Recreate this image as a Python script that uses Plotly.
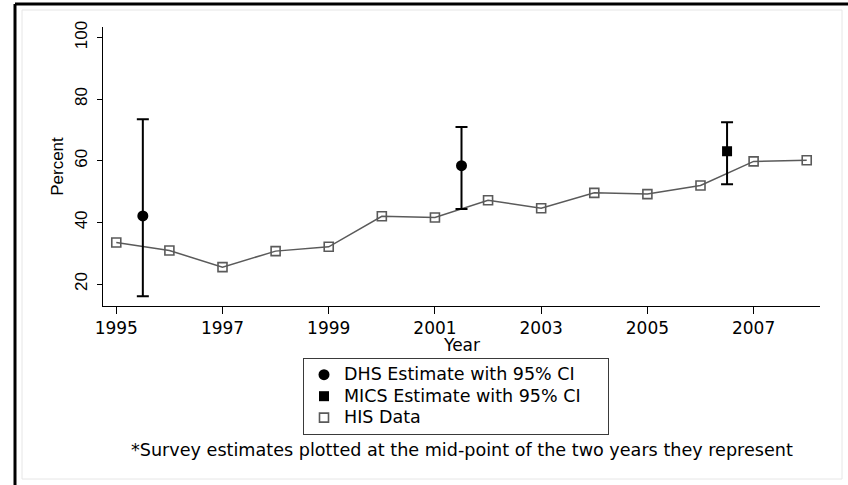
import plotly.graph_objects as go

# HIS annual series
his_years = [1995, 1996, 1997, 1998, 1999, 2000, 2001, 2002, 2003, 2004, 2005, 2006, 2007, 2008]
his_values = [33.5, 30.9, 25.5, 30.7, 32.1, 42.0, 41.6, 47.2, 44.6, 49.6, 49.2, 52.0, 59.8, 60.2]

# DHS survey estimates (mid-point of the two survey years) with 95% CI
dhs_years = [1995.5, 2001.5]
dhs_values = [42.1, 58.4]
dhs_upper = [73.5, 71.0]
dhs_lower = [16.1, 44.4]

# MICS survey estimate with 95% CI
mics_years = [2006.5]
mics_values = [63.1]
mics_upper = [72.5]
mics_lower = [52.4]

x_ticks = [1995, 1997, 1999, 2001, 2003, 2005, 2007]
y_ticks = [20, 40, 60, 80, 100]
grid_ticks = [20, 40, 60, 80]

W, H = 848, 485
ML, MR, MT, MB = 103, 28, 27, 179
PL, PR, PT, PB = ML, W - MR, MT, H - MB


def px(x):
    return (x - PL) / (PR - PL)


def py(y):
    return (PB - y) / (PB - PT)


H_FONT = "DejaVu Sans"
V_FONT = "Liberation Sans"
LEGEND_TEXT_SIZE = 17.5


def legend_label(text, pad=0):
    # rendered size is set on the span; the legend font size drives row spacing
    return f'<span style="font-size:{LEGEND_TEXT_SIZE}px">{text}{"&nbsp;" * pad}</span>'


fig = go.Figure()

# connecting line for the HIS series (kept out of the legend)
fig.add_trace(go.Scatter(
    x=his_years, y=his_values, mode="lines", showlegend=False, hoverinfo="skip",
    line=dict(color="#5a5a5a", width=1.5),
))

fig.add_trace(go.Scatter(
    x=his_years, y=his_values, mode="markers", name=legend_label("HIS Data"),
    marker=dict(symbol="square-open", size=9, color="#5a5a5a", line=dict(width=1.6)),
    legendrank=3,
))


def err(vals, upper, lower):
    return dict(type="data", symmetric=False,
                array=[u - v for u, v in zip(upper, vals)],
                arrayminus=[v - l for v, l in zip(vals, lower)],
                color="black", thickness=2, width=6)


fig.add_trace(go.Scatter(
    x=dhs_years, y=dhs_values, mode="markers", name=legend_label("DHS Estimate with 95% CI"),
    marker=dict(symbol="circle", size=11, color="black"),
    error_y=err(dhs_values, dhs_upper, dhs_lower),
    legendrank=1,
))

fig.add_trace(go.Scatter(
    x=mics_years, y=mics_values, mode="markers",
    name=legend_label("MICS Estimate with 95% CI", pad=4),
    marker=dict(symbol="square", size=10, color="black"),
    error_y=err(mics_values, mics_upper, mics_lower),
    legendrank=2,
))

y_range = [12.9, 103.4]

fig.update_layout(
    width=W, height=H,
    margin=dict(l=ML, r=MR, t=MT, b=MB),
    paper_bgcolor="white", plot_bgcolor="white",
    showlegend=True,
    legend=dict(
        x=px(303), y=py(358), xanchor="left", yanchor="top",
        bordercolor="#3a3a3a", borderwidth=1, bgcolor="white",
        font=dict(family=H_FONT, size=14.2, color="black"),
        itemwidth=30, tracegroupgap=0,
    ),
    xaxis=dict(
        range=[1994.75, 2008.25], tickvals=x_ticks,
        ticks="outside", ticklen=7, tickcolor="black", tickwidth=1,
        showline=True, linecolor="black", linewidth=1,
        showgrid=False, zeroline=False,
        tickfont=dict(family=H_FONT, size=17, color="black"),
    ),
    yaxis=dict(
        range=y_range, tickvals=y_ticks,
        ticks="outside", ticklen=5, tickcolor="black", tickwidth=1,
        showline=True, linecolor="black", linewidth=1,
        showgrid=False, zeroline=False, tickangle=-90,
        ticklabelstandoff=3,
        tickfont=dict(family=V_FONT, size=17, color="black"),
        title=dict(text="Percent", standoff=4,
                   font=dict(family=V_FONT, size=17, color="black")),
    ),
    yaxis2=dict(
        overlaying="y", side="left", range=y_range, tickvals=grid_ticks,
        showgrid=True, gridcolor="#e4ecef", gridwidth=1.5,
        showticklabels=False, ticks="", showline=False, zeroline=False,
    ),
    annotations=[
        dict(text="Year", x=px(461), y=py(345), xref="paper", yref="paper",
             xanchor="center", yanchor="middle", showarrow=False,
             font=dict(family=H_FONT, size=17, color="black")),
        dict(text="*Survey estimates plotted at the mid-point of the two years they represent",
             x=px(462), y=py(450), xref="paper", yref="paper",
             xanchor="center", yanchor="middle", showarrow=False,
             font=dict(family=H_FONT, size=17.6, color="black")),
    ],
    shapes=[
        # faint panel outline
        dict(type="rect", xref="paper", yref="paper",
             x0=px(22), x1=px(842), y0=py(479), y1=py(10),
             line=dict(color="#e6e6e6", width=1), layer="below"),
        # heavy frame edges along the top and left
        dict(type="line", xref="paper", yref="paper",
             x0=px(15), x1=px(850), y0=py(4), y1=py(4),
             line=dict(color="black", width=3)),
        dict(type="line", xref="paper", yref="paper",
             x0=px(15), x1=px(15), y0=py(4), y1=py(487),
             line=dict(color="black", width=3)),
    ],
)

fig.write_html("out.html")
